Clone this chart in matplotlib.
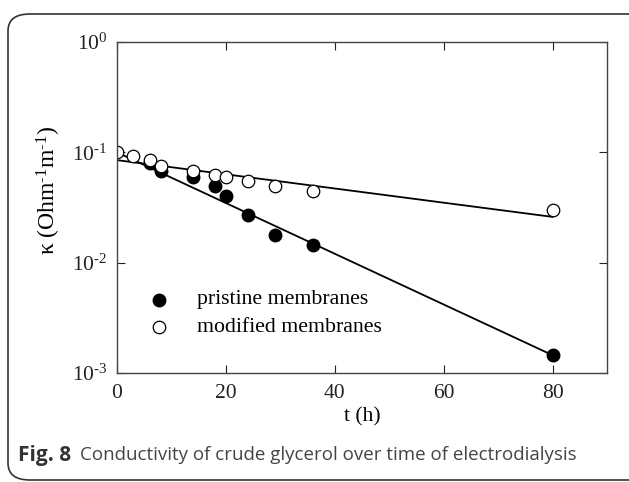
import matplotlib
matplotlib.use("Agg")
import matplotlib.pyplot as plt
from matplotlib.patches import FancyBboxPatch
from matplotlib.ticker import FixedLocator, NullLocator

# Dati
t_pristine = [6, 8, 14, 18, 20, 24, 29, 36, 80]
k_pristine = [0.080, 0.068, 0.060, 0.050, 0.040, 0.027, 0.018, 0.0145, 0.00145]
t_modified = [0, 3, 6, 8, 14, 18, 20, 24, 29, 36, 80]
k_modified = [0.100, 0.092, 0.085, 0.075, 0.068, 0.062, 0.060, 0.055, 0.050, 0.045, 0.030]

# Rette di fit (estremi)
fit_t = [0, 80]
fit_pristine = [0.100, 0.00145]
fit_modified = [0.085, 0.026]

x_ticks = [0, 20, 40, 60, 80]
y_ticks = [1e-3, 1e-2, 1e-1, 1e0]
y_labels = [r"$\mathregular{10^{\text{-}3}}$", r"$\mathregular{10^{\text{-}2}}$",
            r"$\mathregular{10^{\text{-}1}}$", r"$\mathregular{10^{0}}$"]

plt.rcParams["font.family"] = "Liberation Serif"
plt.rcParams["mathtext.fontset"] = "custom"
plt.rcParams["mathtext.rm"] = "Liberation Serif"
plt.rcParams["mathtext.it"] = "Liberation Serif:italic"

fig = plt.figure(figsize=(6.29, 4.82), dpi=100)
ax = fig.add_axes([117 / 629, 1 - 373 / 482, 490 / 629, 331 / 482])

ax.plot(fit_t, fit_pristine, color="black", lw=1.3)
ax.plot(fit_t, fit_modified, color="black", lw=1.3)
ax.plot(t_pristine, k_pristine, "o", color="black", ms=9, mec="black")
ax.plot(t_modified, k_modified, "o", mfc="white", mec="black", ms=9, mew=0.9)

ax.set_yscale("log")
ax.set_xlim(0, 90)
ax.set_ylim(1e-3, 1e0)
ax.xaxis.set_major_locator(FixedLocator(x_ticks))
ax.yaxis.set_major_locator(FixedLocator(y_ticks))
ax.yaxis.set_minor_locator(NullLocator())
ax.set_yticklabels(y_labels)
ax.tick_params(direction="in", top=True, right=True, length=6, width=0.8,
               labelsize=15.5, colors="#222222", pad=7)
ax.tick_params(axis="x", pad=8)
for s in ax.spines.values():
    s.set_linewidth(1.0)
    s.set_color("#444444")

ax.set_xlabel("t (h)", fontsize=15.5, labelpad=3)
ax.set_ylabel(r"$\mathregular{\kappa\ (Ohm^{\text{-}1}m^{\text{-}1})}$", fontsize=17)
ax.yaxis.set_label_coords(-0.11, 0.55)

# legenda manuale
ax.plot([7.8], [4.6e-3], "o", color="black", ms=9)
ax.plot([7.8], [2.6e-3], "o", mfc="white", mec="black", ms=9, mew=0.9)
ax.text(14.7, 4.6e-3, "pristine membranes", fontsize=15.7, va="center")
ax.text(14.7, 2.6e-3, "modified membranes", fontsize=15.7, va="center")

# cornice e didascalia
box = FancyBboxPatch((8 / 629, 2 / 482), 1.1, (1 - 14 / 482) - 2 / 482,
                     boxstyle="round,pad=0,rounding_size=0.035",
                     transform=fig.transFigure, fill=False,
                     edgecolor="#333333", lw=1.2, clip_on=False)
fig.patches.append(box)

cap_y = 1 - 455 / 482
fig.text(18 / 629, cap_y, "Fig. 8", fontfamily="Open Sans",
         fontweight="bold", fontsize=15, color="#333333", va="center")
fig.text(80 / 629, cap_y,
         "Conductivity of crude glycerol over time of electrodialysis",
         fontfamily="Open Sans", fontsize=13.5, color="#444444", va="center")

fig.savefig("out.png", dpi=100)
